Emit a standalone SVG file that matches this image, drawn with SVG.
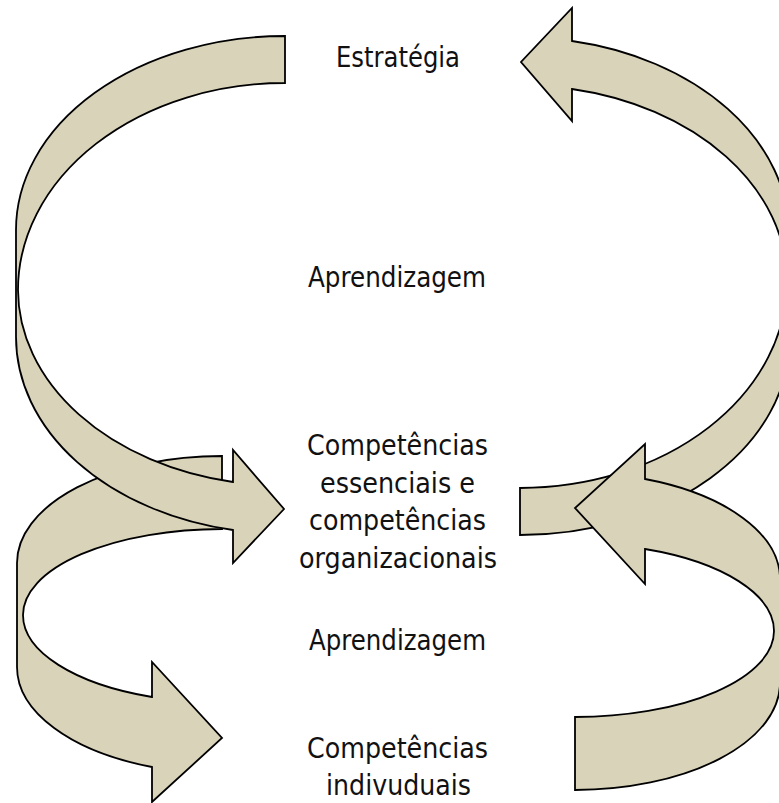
<svg xmlns="http://www.w3.org/2000/svg" width="779" height="803" viewBox="0 0 779 803">
<style>
.arr{fill:#D9D3BA;stroke:#000;stroke-width:1.8;stroke-linejoin:miter}
.lbl{font-family:"DejaVu Sans Condensed","DejaVu Sans",sans-serif;font-stretch:condensed;font-size:28px;fill:#111}
</style>
<defs>
<path id="bigArrow" d="M285 36 A269 194 0 0 0 16 230 L16 337 A268 196.5 0 0 0 233 530 L233 563 L284 509 L233 450 L233 482 A266 196 0 0 1 18 290 A267 207 0 0 1 285 83 Z"/>
<path id="smallArrow" d="M222 456 A205 107 0 0 0 17 563 L17 667 A205 106.4 0 0 0 152 767 L152 802 L222 738 L152 662 L152 697 A199 87.6 0 0 1 23 615 A199 86 0 0 1 222 529 Z"/>
</defs>
<rect width="779" height="803" fill="#fff"/>
<g id="connectors">
<use id="arrow-ind-to-org" href="#smallArrow" class="arr"/>
<use id="arrow-strat-to-org" href="#bigArrow" class="arr"/>
<use id="arrow-org-to-strat" href="#bigArrow" class="arr" transform="rotate(180 402.5 285.5)"/>
<use id="arrow-org-to-ind" href="#smallArrow" class="arr" transform="rotate(180 398.5 623)"/>
</g>
<g id="estrategia"><text class="lbl" x="336" y="67" textLength="124" lengthAdjust="spacingAndGlyphs">Estratégia</text></g>
<g id="aprendizagem1"><text class="lbl" x="308" y="287" textLength="178" lengthAdjust="spacingAndGlyphs">Aprendizagem</text></g>
<g id="competencias-org">
<text class="lbl" x="307" y="455" textLength="181" lengthAdjust="spacingAndGlyphs">Competências</text>
<text class="lbl" x="320" y="493" textLength="155" lengthAdjust="spacingAndGlyphs">essenciais e</text>
<text class="lbl" x="309" y="530" textLength="177" lengthAdjust="spacingAndGlyphs">competências</text>
<text class="lbl" x="299" y="568" textLength="198" lengthAdjust="spacingAndGlyphs">organizacionais</text>
</g>
<g id="aprendizagem2"><text class="lbl" x="309" y="650" textLength="177" lengthAdjust="spacingAndGlyphs">Aprendizagem</text></g>
<g id="competencias-ind">
<text class="lbl" x="307" y="758" textLength="181" lengthAdjust="spacingAndGlyphs">Competências</text>
<text class="lbl" x="326" y="795" textLength="145" lengthAdjust="spacingAndGlyphs">indivuduais</text>
</g>
</svg>
